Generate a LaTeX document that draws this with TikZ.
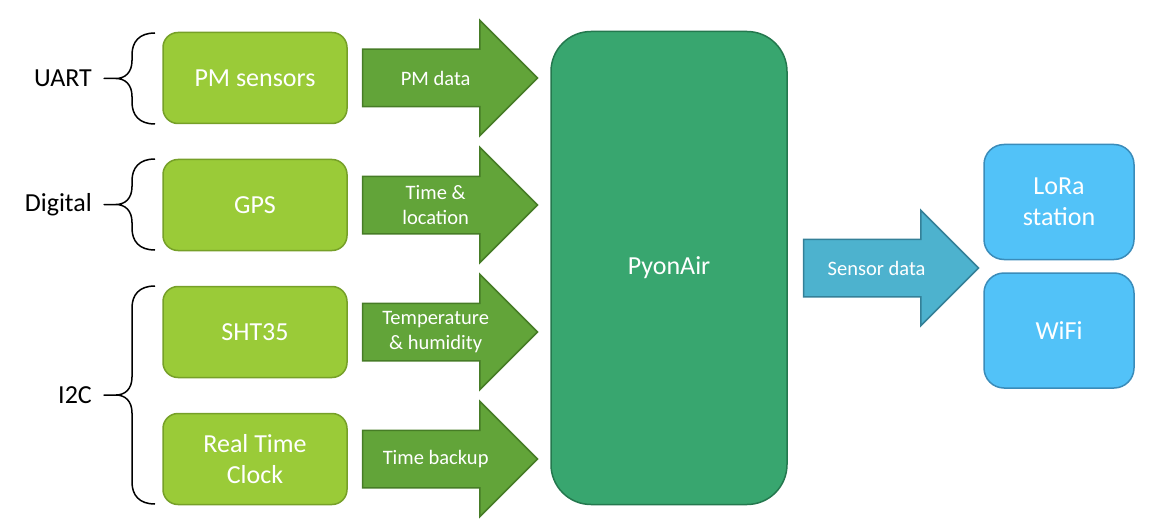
\documentclass[tikz,border=0pt]{standalone}
\usepackage{fontspec}
\setmainfont{Carlito}
\usetikzlibrary{positioning,shapes.arrows}

\definecolor{sensorfill}{RGB}{154,203,56}
\definecolor{sensorline}{RGB}{118,160,40}
\definecolor{flowfill}{RGB}{98,164,57}
\definecolor{flowline}{RGB}{70,124,38}
\definecolor{hubfill}{RGB}{56,166,111}
\definecolor{hubline}{RGB}{36,120,78}
\definecolor{sendfill}{RGB}{77,178,206}
\definecolor{sendline}{RGB}{52,128,152}
\definecolor{radiofill}{RGB}{82,194,248}
\definecolor{radioline}{RGB}{58,140,186}

\tikzset{
    sensor/.style={draw=sensorline, fill=sensorfill, line width=1.5pt, rounded corners=15pt,
        minimum width=184pt, minimum height=91pt, text=white, align=center,
        font=\fontsize{26}{31}\selectfont},
    flow/.style={single arrow, draw=flowline, fill=flowfill, line width=1.5pt,
        single arrow head extend=29pt, single arrow tip angle=90,
        minimum height=175pt, minimum width=114pt, inner xsep=0pt, inner ysep=28pt},
    flowtext/.style={text=white, align=center, inner sep=0pt,
        font=\fontsize{20.5}{25.5}\selectfont},
    hub/.style={draw=hubline, fill=hubfill, line width=1.5pt, rounded corners=40pt,
        minimum width=236pt, minimum height=473pt, text=white,
        font=\fontsize{26}{31}\selectfont},
    radio/.style={draw=radioline, fill=radiofill, line width=1.5pt, rounded corners=20pt,
        minimum width=150pt, minimum height=115pt, text=white, align=center,
        font=\fontsize{26}{31}\selectfont},
    bus/.style={anchor=east, inner sep=0pt, font=\fontsize{26}{31}\selectfont},
    brace/.style={line width=1.5pt, line join=round}
}

\begin{document}
\begin{tikzpicture}[x=1pt, y=-1pt]
    \useasboundingbox (0,0) rectangle (1162,532);
    % sensors and what they send
    \foreach \name/\txt/\data/\row in {pm/PM sensors/PM data/0,
            gps/GPS/{Time \&\\location}/1,
            sht/SHT35/{Temperature\\\& humidity}/2,
            rtc/{Real Time\\Clock}/Time backup/3} {
        \node[sensor] (\name) at (255,{78+127*\row}) {\txt};
        \node[flow, right=14pt of \name] (\name-arrow) {};
        \node[flowtext] (\name-data) at (\name-arrow.center) {\data};
    }
    % buses
    \foreach \bus/\top/\bot in {UART/33/124, Digital/159/250, I2C/286/504} {
        \pgfmathsetmacro\mid{(\top+\bot)/2}
        \draw[brace] (155,\top) .. controls (139,\top) and (132,{\top+9}) .. (132,{\top+22})
            -- (132,{\mid-18}) .. controls (132,{\mid-6}) and (125,\mid) .. (116,\mid)
            -- (104,\mid) -- (116,\mid)
            .. controls (125,\mid) and (132,{\mid+6}) .. (132,{\mid+18})
            -- (132,{\bot-22}) .. controls (132,{\bot-9}) and (139,\bot) .. (155,\bot);
        \node[bus] (bus-\bus) at (92,\mid) {\bus};
    }
    \node[hub] (pyon) at (669,268) {PyonAir};
    \node[flow, draw=sendline, fill=sendfill, right=15pt of pyon] (send-arrow) {};
    \node[flowtext] (send) at (send-arrow.center) {Sensor data};
    \node[radio] (lora) at (1059,202) {LoRa\\station};
    \node[radio, below=12pt of lora] (wifi) {WiFi};
\end{tikzpicture}
\end{document}
